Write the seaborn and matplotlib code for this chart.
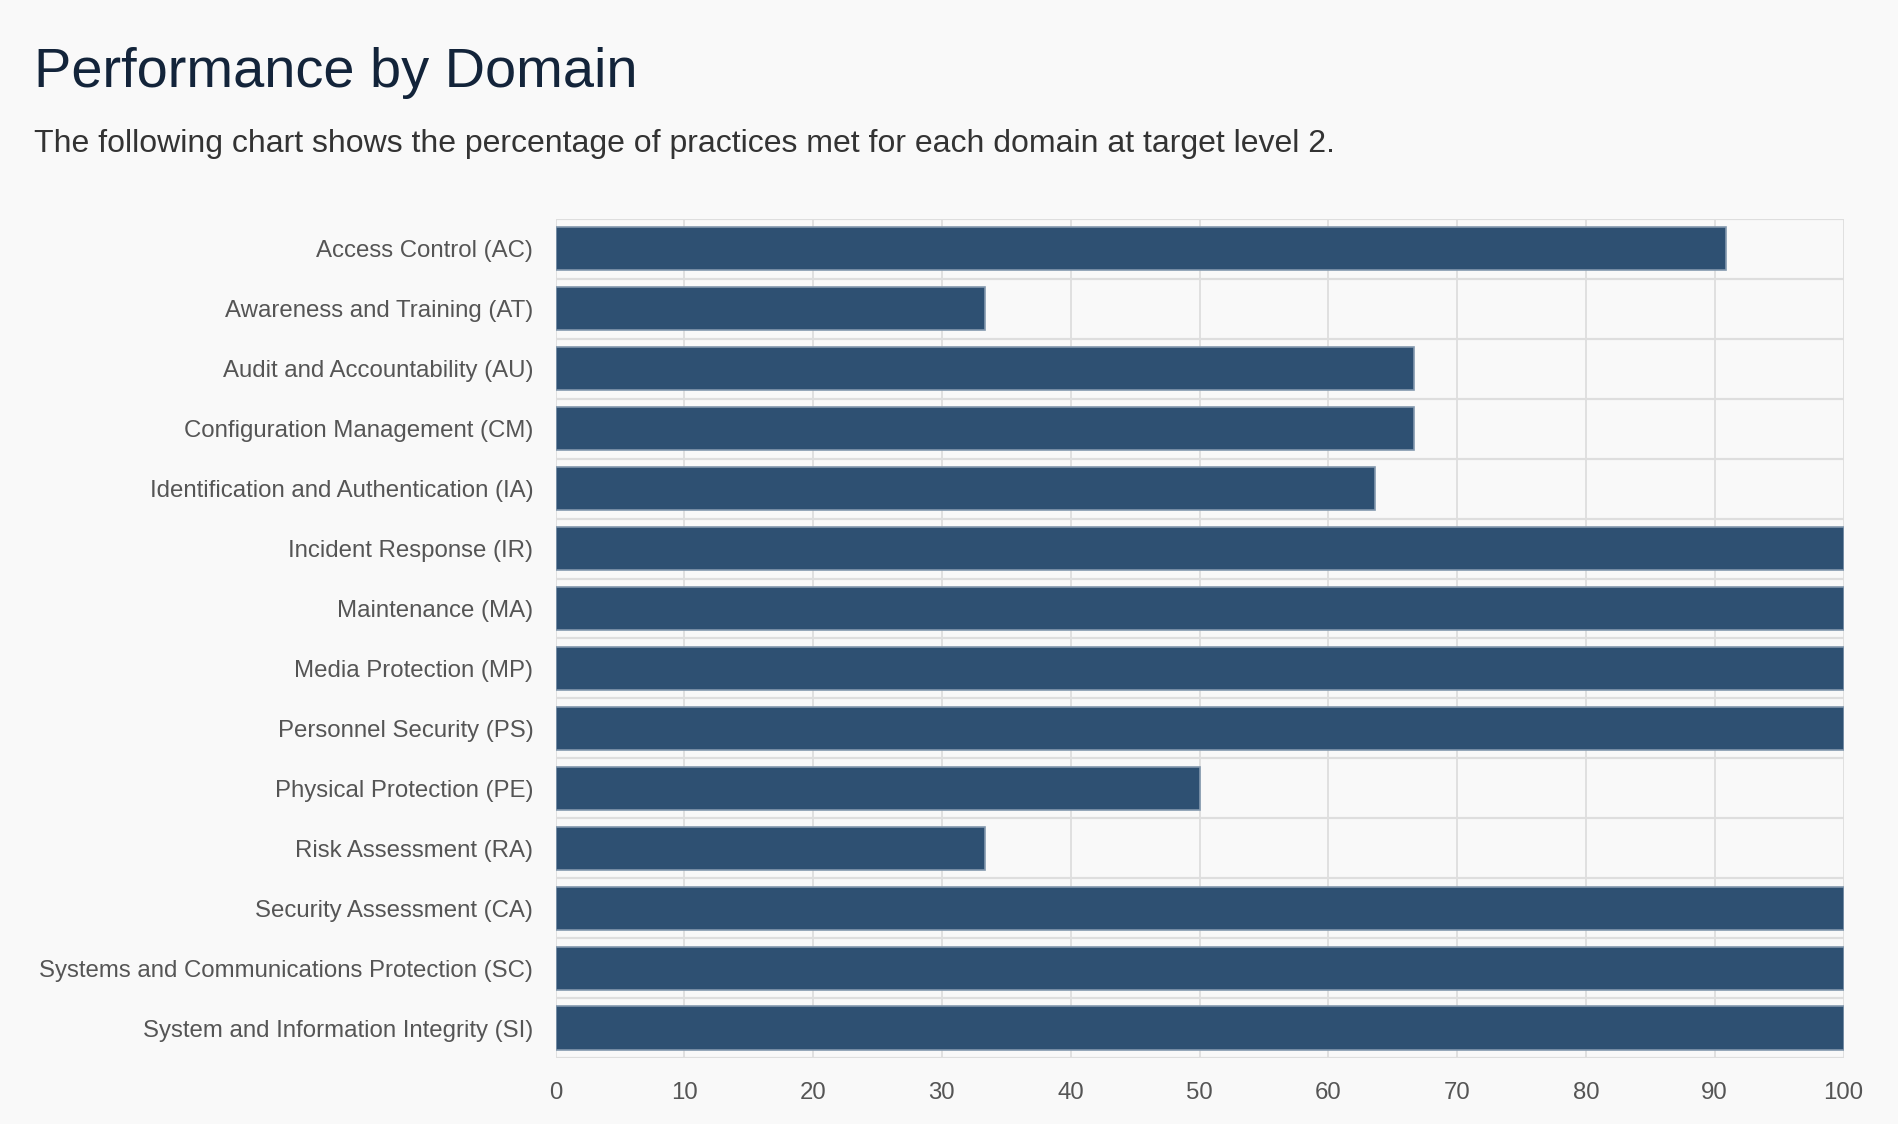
import matplotlib
matplotlib.use('Agg')
import matplotlib.pyplot as plt
import numpy as np
import pandas as pd
import seaborn as sns

# 도메인별 달성률 (target level 2)
domains = ['Access Control (AC)', 'Awareness and Training (AT)', 'Audit and Accountability (AU)',
           'Configuration Management (CM)', 'Identification and Authentication (IA)',
           'Incident Response (IR)', 'Maintenance (MA)', 'Media Protection (MP)',
           'Personnel Security (PS)', 'Physical Protection (PE)', 'Risk Assessment (RA)',
           'Security Assessment (CA)', 'Systems and Communications Protection (SC)',
           'System and Information Integrity (SI)']
pct_met = [90.91, 33.33, 66.67, 66.67, 63.64, 100, 100, 100, 100, 50, 33.33, 100, 100, 100]
x_ticks = [0, 10, 20, 30, 40, 50, 60, 70, 80, 90, 100]

df = pd.DataFrame({'domain': domains, 'pct': pct_met})

sns.set_theme(style='white')
plt.rcParams['font.family'] = ['Liberation Sans', 'DejaVu Sans']
bg = '#f9f9f9'

fig = plt.figure(figsize=(18.98, 11.24), dpi=100, facecolor=bg)
ax = fig.add_axes([0.2927, 0.0587, 0.9713 - 0.2927, 0.8052 - 0.0587])
ax.set_facecolor(bg)

sns.barplot(data=df, x='pct', y='domain', orient='h', color='#2e5072', saturation=1,
            width=0.72, edgecolor='#8398ae', linewidth=1.2, ax=ax, zorder=3)

ax.set_xlim(0, 100)
ax.set_ylim(len(domains) - 0.5, -0.5)
ax.set_xticks(x_ticks)
ax.set_xticklabels([str(t) for t in x_ticks])
ax.set_yticks(np.arange(len(domains)))
ax.set_yticks(np.arange(-0.5, len(domains), 1), minor=True)

ax.grid(axis='x', which='major', color='#d9d9d9', linewidth=1.1, zorder=0)
ax.grid(axis='y', which='minor', color='#dedede', linewidth=1.6, zorder=0)
ax.set_xlabel('')
ax.set_ylabel('')
for s in ax.spines.values():
    s.set_visible(False)

ax.tick_params(axis='y', which='major', length=0, pad=16, labelsize=17.3, labelcolor='#555555')
ax.tick_params(axis='y', which='minor', length=12, color='#dedede', width=1.6)
ax.tick_params(axis='x', which='major', length=12, color='#d9d9d9', width=1.1, pad=5,
               labelsize=17.3, labelcolor='#555555')
for lbl in ax.get_yticklabels():
    lbl.set_y(lbl.get_position()[1])
    lbl.set_va('center_baseline')

fig.text(0.018, 0.923, 'Performance by Domain', fontsize=40.3, color='#13243a', ha='left', va='baseline')
fig.text(0.018, 0.865, 'The following chart shows the percentage of practices met for each domain at target level 2.',
         fontsize=23, color='#333333', ha='left', va='baseline')

fig.savefig('out.png', dpi=100, facecolor=bg)
